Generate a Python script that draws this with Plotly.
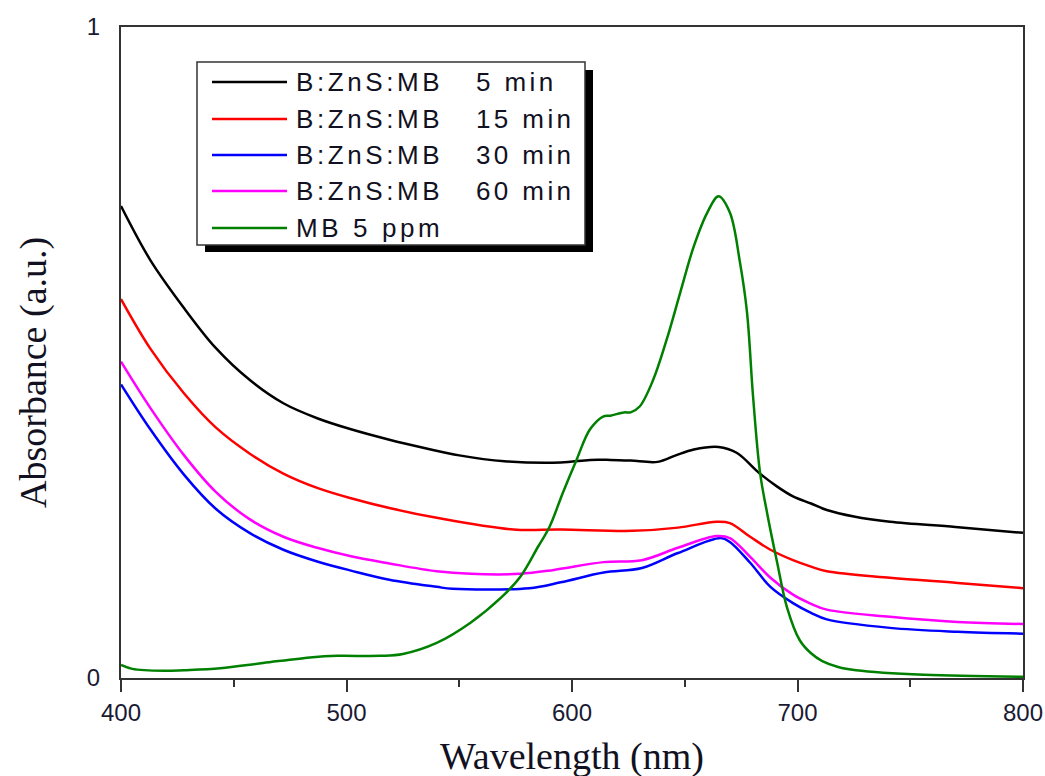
import plotly.graph_objects as go

# UV-vis absorbance spectra, wavelength in nm
wl_5 = [400, 413, 428, 442, 457, 472, 487, 502, 519, 535, 550, 570, 595, 608, 617,
        626, 638, 646, 654, 665, 673, 683, 691, 698, 706, 713, 725, 741, 770, 800]
abs_5 = [0.725, 0.642, 0.568, 0.507, 0.458, 0.422, 0.399, 0.382, 0.366, 0.353, 0.342,
         0.333, 0.331, 0.335, 0.335, 0.334, 0.332, 0.342, 0.351, 0.355, 0.346, 0.315,
         0.294, 0.279, 0.268, 0.258, 0.248, 0.240, 0.232, 0.223]

wl_15 = [400, 413, 428, 442, 457, 472, 487, 502, 519, 540, 574, 595, 627, 647, 664,
         670, 679, 688, 698, 706, 713, 741, 771, 800]
abs_15 = [0.582, 0.506, 0.437, 0.385, 0.345, 0.314, 0.292, 0.276, 0.261, 0.246, 0.228,
          0.228, 0.226, 0.231, 0.240, 0.238, 0.217, 0.197, 0.181, 0.171, 0.164, 0.154,
          0.146, 0.138]

wl_30 = [400, 413, 428, 442, 457, 472, 487, 502, 519, 540, 547, 581, 595, 614, 631,
         647, 666, 670, 679, 688, 698, 706, 713, 741, 771, 800]
abs_30 = [0.451, 0.382, 0.312, 0.260, 0.223, 0.197, 0.179, 0.165, 0.151, 0.140, 0.137,
          0.138, 0.147, 0.162, 0.169, 0.192, 0.215, 0.209, 0.177, 0.140, 0.115, 0.100,
          0.090, 0.077, 0.071, 0.068]

wl_60 = [400, 413, 428, 442, 457, 472, 487, 502, 519, 540, 555, 577, 592, 614, 631,
         647, 664, 670, 679, 688, 698, 706, 713, 741, 771, 800]
abs_60 = [0.486, 0.415, 0.342, 0.286, 0.244, 0.217, 0.200, 0.187, 0.176, 0.164, 0.160,
          0.160, 0.166, 0.178, 0.181, 0.200, 0.218, 0.215, 0.186, 0.154, 0.128, 0.114,
          0.105, 0.094, 0.086, 0.083]

wl_mb = [400, 405, 419, 428, 444, 463, 485, 496, 515, 525, 540, 555, 569, 577, 585,
         590, 596, 602, 608, 614, 617, 623, 626, 630, 636, 642, 648, 654, 660, 665,
         670, 674.5, 677.6, 680.3, 683.4, 686.5, 691, 695.3, 701, 706, 711, 718, 726,
         756, 800]
abs_mb = [0.020, 0.014, 0.011, 0.012, 0.015, 0.023, 0.032, 0.034, 0.034, 0.037, 0.054,
          0.085, 0.125, 0.155, 0.202, 0.232, 0.285, 0.335, 0.382, 0.402, 0.403, 0.408,
          0.408, 0.417, 0.458, 0.520, 0.592, 0.663, 0.715, 0.740, 0.715, 0.638, 0.562,
          0.432, 0.315, 0.254, 0.177, 0.109, 0.058, 0.038, 0.026, 0.017, 0.012, 0.005,
          0.002]

series_names = ["B:ZnS:MB", "B:ZnS:MB", "B:ZnS:MB", "B:ZnS:MB", "MB 5 ppm"]
series_times = ["5 min", "15 min", "30 min", "60 min", ""]
series_colors = ["#000000", "#ff0000", "#0000ff", "#ff00ff", "#008000"]
series_x = [wl_5, wl_15, wl_30, wl_60, wl_mb]
series_y = [abs_5, abs_15, abs_30, abs_60, abs_mb]

W, H = 1045, 776
L, R, T, B = 121, 22, 27, 98
PW, PH = W - L - R, H - T - B


def px(x):
    return (x - L) / PW


def py(y):
    return (H - B - y) / PH


fig = go.Figure()
for name, t, c, xs, ys in zip(series_names, series_times, series_colors, series_x, series_y):
    fig.add_trace(go.Scatter(x=xs, y=ys, mode="lines", name=(name + " " + t).strip(),
                             line=dict(color=c, width=2.5, shape="spline", smoothing=1.0),
                             showlegend=False))

shapes = []
annotations = []

# boxed key with drop shadow
shapes.append(dict(type="rect", xref="paper", yref="paper", x0=px(205), x1=px(593),
                   y0=py(252), y1=py(70), fillcolor="#000000", line=dict(width=0),
                   layer="above"))
shapes.append(dict(type="rect", xref="paper", yref="paper", x0=px(197), x1=px(585),
                   y0=py(245), y1=py(62), fillcolor="#ffffff",
                   line=dict(color="#333333", width=1.5), layer="above"))
rows = [82, 119, 155, 191, 228]
for ry, name, t, c in zip(rows, series_names, series_times, series_colors):
    shapes.append(dict(type="line", xref="paper", yref="paper", x0=px(212), x1=px(287),
                       y0=py(ry), y1=py(ry), line=dict(color=c, width=2.5), layer="above"))
    annotations.append(dict(xref="paper", yref="paper", x=px(294), y=py(ry),
                            xanchor="left", yanchor="middle", showarrow=False,
                            text='<span style="letter-spacing:3.6px">' + name + "</span>",
                            font=dict(family="Liberation Sans", size=26, color="#111122")))
    if t:
        annotations.append(dict(xref="paper", yref="paper", x=px(474), y=py(ry),
                                xanchor="left", yanchor="middle", showarrow=False,
                                text='<span style="letter-spacing:3.4px">' + t + "</span>",
                                font=dict(family="Liberation Sans", size=26, color="#111122")))

# axis titles
annotations.append(dict(xref="paper", yref="paper", x=px(572), y=py(756),
                        xanchor="center", yanchor="middle", showarrow=False,
                        text="Wavelength (nm)",
                        font=dict(family="Liberation Serif", size=38, color="#111122")))
annotations.append(dict(xref="paper", yref="paper", x=px(33), y=py(373),
                        xanchor="center", yanchor="middle", showarrow=False, textangle=-90,
                        text="Absorbance (a.u.)",
                        font=dict(family="Liberation Serif", size=38, color="#111122")))

tick_font = dict(family="Liberation Sans", size=24, color="#1a1a33")
fig.update_layout(
    width=W, height=H,
    margin=dict(l=L, r=R, t=T, b=B, autoexpand=False),
    paper_bgcolor="white", plot_bgcolor="white",
    shapes=shapes, annotations=annotations,
    xaxis=dict(range=[400, 800], tick0=400, dtick=100, ticks="outside", ticklen=12,
               tickwidth=1.5, tickcolor="#333333", showgrid=False, zeroline=False,
               showline=True, mirror=True, linecolor="#333333", linewidth=2,
               tickfont=tick_font, ticklabelstandoff=0, automargin=False,
               minor=dict(dtick=50, ticks="outside", ticklen=7, tickwidth=1.5,
                          tickcolor="#333333", showgrid=False)),
    yaxis=dict(range=[0, 1], tickvals=[0, 1], ticktext=["0", "1"], ticks="",
               showgrid=False, zeroline=False, showline=True, mirror=True,
               linecolor="#333333", linewidth=2, tickfont=tick_font,
               ticklabelstandoff=14, automargin=False),
)

fig.write_html("out.html")
